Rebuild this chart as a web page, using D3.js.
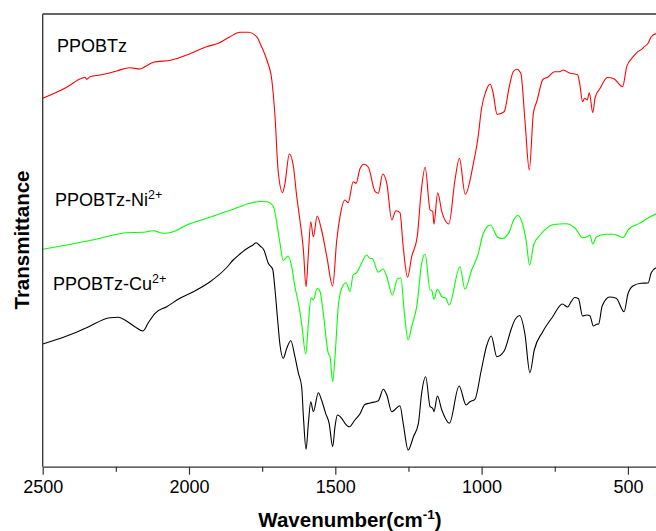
<!DOCTYPE html>
<html>
<head>
<meta charset="utf-8">
<script src="https://cdn.jsdelivr.net/npm/d3@7"></script>
<style>
  body { margin: 0; background: #fff; }
  svg { display: block; font-family: "Liberation Sans", Arial, sans-serif; }
</style>
</head>
<body>
<div id="chart"></div>
<script>
// wavenumber (cm-1) and transmittance (a.u.)
var redWn = [2500,2418,2367,2355,2350,2338,2304,2247,2202,2167,2145,2122,2059,2008,1940,1900,1860,1826,1797,1769,1752,1734,1717,1706,1695,1680,1672,1657,1644,1632,1621,1609,1600,1592,1584,1575,1562,1547,1529,1509,1495,1484,1467,1456,1439,1429,1416,1402,1387,1364,1353,1338,1324,1307,1293,1279,1268,1253,1239,1220,1207,1193,1176,1167,1163,1150,1136,1112,1091,1076,1056,1028,1012,1000,985,971,961,947,923,905,892,880,866,852,837,823,811,790,774,751,734,721,700,672,664,655,648,639,632,620,612,595,570,548,518,504,482,466,453,444,430,421,404];
var redT = [368.4,379.4,388.4,389.4,387.4,390,391.7,395.7,399,397.7,401,404.4,406.7,411.7,420,423.4,430,434.4,434.4,430,420,406.7,386.7,350,294.7,274,283.4,312.7,301.7,270.7,246.7,216.7,180,213.4,245,230,250.7,236.7,210,180.7,226.7,250,266.7,264,285,283.4,297.7,302.4,299.4,275,273.4,292.7,283.4,246.7,256,254,220,189.4,210,230,273.4,299.4,256.7,255,242.7,274,255,242.7,286.7,308.4,272.4,303.4,329.7,358.7,375.7,382.7,374.2,352.2,355,380.7,395,397.5,393.4,346.7,296.7,353.7,365.7,387.5,389.4,394.9,394.9,396.7,393.7,392,381.7,365,368.4,366.7,374,354,369.2,378.4,389.2,387.9,380,400,410,415,417.4,420,424,429.7,433.1];

var greenWn = [2500,2418,2304,2213,2156,2122,2088,2054,2008,1940,1849,1792,1757,1734,1712,1698,1689,1678,1661,1649,1638,1626,1615,1601,1592,1583,1575,1562,1552,1541,1524,1518,1509,1501,1490,1478,1463,1450,1439,1427,1414,1393,1381,1374,1353,1337,1324,1305,1287,1276,1264,1251,1239,1220,1205,1193,1176,1171,1163,1151,1136,1122,1111,1074,1057,1034,1011,995,970,945,930,905,892,876,859,848,836,822,800,780,754,711,681,654,638,630,620,608,577,548,517,497,460,431,404];
var greenT = [217.4,221.7,228.4,234,234.4,236,233.4,235,241.7,248.4,257.4,263.4,265.2,265,260.4,240,223.4,206.2,210.7,200,180,163.4,143.4,112.7,143.4,169,166.7,178.4,175,153.4,113.4,110,85,110,160,178.4,184,175,191.7,194,201.2,211.7,208.2,208.2,194.4,197.7,190,171.7,188.2,188.7,153.7,126.7,140,163.4,203.4,212.7,176.7,176.7,167.4,177.4,170,168.4,161.7,200,177.4,196.7,213.4,232.7,241.7,229.4,228.2,235,245.7,251.2,241.7,226.7,201.7,221.7,231.7,237.9,242.2,243,238.7,228.9,230.2,231.7,222.7,229.7,232.5,232.5,229.2,237.7,243.3,248.7,252.9];

var blackWn = [2500,2418,2350,2270,2242,2219,2185,2158,2139,2116,2076,2031,1985,1928,1871,1849,1826,1809,1792,1781,1771,1757,1744,1729,1714,1706,1698,1689,1678,1666,1652,1638,1626,1615,1609,1600,1592,1584,1575,1558,1547,1533,1521,1509,1501,1493,1478,1467,1452,1433,1416,1399,1381,1353,1336,1324,1307,1279,1268,1251,1233,1216,1205,1191,1176,1167,1163,1151,1136,1110,1077,1053,1040,1023,1001,983,967,948,923,905,900,870,852,835,820,791,757,724,706,694,682,669,655,641,630,618,607,600,588,562,540,513,500,483,455,431,420,404];
var blackT = [122.7,130.7,139,149,149.4,146.7,140,135.7,144,153.4,160,168.4,175,185,199.2,206.7,212.7,216.7,220,221.7,224,220.7,216.7,203.4,197.4,176.7,150,121.7,108.4,118.4,126,110,93.4,80,50,17.4,43.4,65,55,74,66.7,53.4,43.4,20,40,51.7,48.4,43.4,40,46.7,52.7,62.2,63.7,66,77.4,71.7,55,61,43.4,16.7,30,43.4,73.4,90,60,58.4,55,70.7,56.7,43.4,80.7,61.7,65,67.4,96.7,120.7,130.7,110,115.7,131.7,136.7,151.2,132.7,94,116.7,135,150,162.7,159.7,165,169.2,167.9,150.7,151.7,150.9,140.7,142.4,142.7,160.7,169.7,168.4,155,172.7,180.7,183.4,183.7,194.2,198.9];

var majorTicks = [2500, 2000, 1500, 1000, 500];
var minorTicks = [2250, 1750, 1250, 750];

var series = [
  { name: "PPOBTz", sup: "", wn: redWn, t: redT, color: "#ff0000", lx: 57, ly: 52 },
  { name: "PPOBTz-Ni", sup: "2+", wn: greenWn, t: greenT, color: "#00ff00", lx: 55, ly: 206 },
  { name: "PPOBTz-Cu", sup: "2+", wn: blackWn, t: blackT, color: "#000000", lx: 53, ly: 290 }
];

var width = 656, height = 531;
// plot box (note: "top" is taken by window.top, so prefixed names)
var plotLeft = 42.7, plotTop = 14, plotBottom = 466.7, plotRight = 656;

var svg = d3.select("#chart").append("svg")
  .attr("width", width)
  .attr("height", height);

var x = d3.scaleLinear().domain([2500, 404]).range([plotLeft, plotRight]);
var y = d3.scaleLinear().domain([0, 452.7]).range([plotBottom, plotTop]);

svg.append("clipPath").attr("id", "plotclip")
  .append("rect")
  .attr("x", plotLeft).attr("y", plotTop)
  .attr("width", plotRight - plotLeft).attr("height", plotBottom - plotTop);

var line = d3.line()
  .x(function(d) { return x(d[0]); })
  .y(function(d) { return y(d[1]); })
  .curve(d3.curveMonotoneX);

series.forEach(function(s) {
  var pts = s.wn.map(function(w, i) { return [w, s.t[i]]; });
  svg.append("path")
    .datum(pts)
    .attr("clip-path", "url(#plotclip)")
    .attr("fill", "none")
    .attr("stroke", s.color)
    .attr("stroke-width", 1.1)
    .attr("d", line);

  var lab = svg.append("text")
    .attr("x", s.lx)
    .attr("y", s.ly)
    .attr("font-size", 18)
    .attr("fill", "#000")
    .text(s.name);
  if (s.sup) {
    lab.append("tspan")
      .attr("dy", -7)
      .attr("font-size", 12.5)
      .text(s.sup);
  }
});

// frame: top line and left axis (no ticks on y)
svg.append("line")
  .attr("x1", plotLeft).attr("x2", plotRight)
  .attr("y1", plotTop).attr("y2", plotTop)
  .attr("stroke", "#333").attr("stroke-width", 1.3);
svg.append("line")
  .attr("x1", plotLeft).attr("x2", plotLeft)
  .attr("y1", plotTop).attr("y2", plotBottom)
  .attr("stroke", "#333").attr("stroke-width", 1.3);

var xAxis = svg.append("g")
  .attr("transform", "translate(0," + plotBottom + ")")
  .call(d3.axisBottom(x).tickValues(majorTicks).tickSize(8).tickSizeOuter(0).tickPadding(6).tickFormat(d3.format("d")));
xAxis.select(".domain").attr("stroke", "#333").attr("stroke-width", 1.3);
xAxis.selectAll(".tick line").attr("stroke", "#333").attr("stroke-width", 1.2);
xAxis.selectAll(".tick text")
  .attr("font-size", 18)
  .attr("font-family", "Liberation Sans, Arial, sans-serif")
  .attr("fill", "#000");

var minor = svg.append("g")
  .attr("transform", "translate(0," + plotBottom + ")")
  .call(d3.axisBottom(x).tickValues(minorTicks).tickSize(5).tickSizeOuter(0).tickFormat(""));
minor.select(".domain").remove();
minor.selectAll(".tick line").attr("stroke", "#333").attr("stroke-width", 1.2);

// axis titles
var xt = svg.append("text")
  .attr("x", 350)
  .attr("y", 527)
  .attr("text-anchor", "middle")
  .attr("font-size", 20.5)
  .attr("font-weight", "bold")
  .text("Wavenumber(cm");
xt.append("tspan").attr("dy", -8).attr("font-size", 13.5).text("-1");
xt.append("tspan").attr("dy", 8).text(")");

svg.append("text")
  .attr("transform", "translate(29,240) rotate(-90)")
  .attr("text-anchor", "middle")
  .attr("font-size", 20.5)
  .attr("font-weight", "bold")
  .text("Transmittance");
</script>
</body>
</html>
